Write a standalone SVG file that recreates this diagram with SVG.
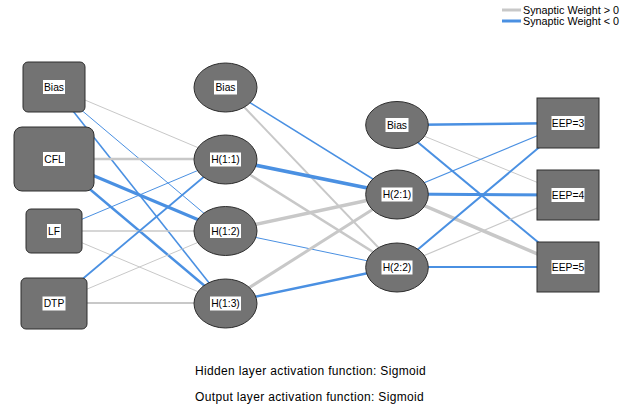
<svg xmlns="http://www.w3.org/2000/svg" width="627" height="407" viewBox="0 0 627 407">
<style>
.pos{stroke:#c8c8c8;fill:none;stroke-linecap:butt}
.neg{stroke:#4a90e2;fill:none;stroke-linecap:butt}
.node{fill:#737373;stroke:#2e2e2e;stroke-width:1}
.lb{fill:#ffffff;stroke:none}
.t{font-family:"Liberation Sans",Arial,sans-serif;font-size:10.3px;fill:#000;text-anchor:middle}
.leg{font-family:"Liberation Sans",Arial,sans-serif;font-size:10.8px;fill:#000}
.foot{font-family:"Liberation Sans",Arial,sans-serif;font-size:12px;fill:#000;letter-spacing:0.35px}
</style>
<rect width="627" height="407" fill="#ffffff"/>
<g id="legend">
<line x1="502" y1="10" x2="521" y2="10" class="pos" stroke-width="3"/>
<text x="523" y="14" class="leg">Synaptic Weight &gt; 0</text>
<line x1="502" y1="21" x2="521" y2="21" class="neg" stroke-width="3"/>
<text x="523" y="25" class="leg">Synaptic Weight &lt; 0</text>
</g>
<g id="connectors">
<!-- input to hidden 1 -->
<line x1="54" y1="87" x2="225" y2="159" class="pos" stroke-width="1"/>
<line x1="54" y1="87" x2="225" y2="231" class="neg" stroke-width="1"/>
<line x1="54" y1="87" x2="225" y2="303" class="neg" stroke-width="1.6"/>
<line x1="54" y1="159" x2="225" y2="159" class="pos" stroke-width="2.5"/>
<line x1="54" y1="159" x2="225" y2="231" class="neg" stroke-width="3"/>
<line x1="54" y1="159" x2="225" y2="303" class="neg" stroke-width="2.5"/>
<line x1="54" y1="231" x2="225" y2="159" class="neg" stroke-width="1"/>
<line x1="54" y1="231" x2="225" y2="231" class="pos" stroke-width="1.3"/>
<line x1="54" y1="231" x2="225" y2="303" class="pos" stroke-width="1"/>
<line x1="54" y1="303" x2="225" y2="159" class="neg" stroke-width="1.8"/>
<line x1="54" y1="303" x2="225" y2="231" class="pos" stroke-width="1"/>
<line x1="54" y1="303" x2="225" y2="303" class="pos" stroke-width="2"/>
<!-- hidden 1 to hidden 2 -->
<line x1="225" y1="87" x2="397" y2="194" class="neg" stroke-width="1.5"/>
<line x1="225" y1="87" x2="397" y2="267" class="pos" stroke-width="2"/>
<line x1="225" y1="159" x2="397" y2="194" class="neg" stroke-width="3.5"/>
<line x1="225" y1="159" x2="397" y2="267" class="pos" stroke-width="2.5"/>
<line x1="225" y1="231" x2="397" y2="194" class="pos" stroke-width="3.5"/>
<line x1="225" y1="231" x2="397" y2="267" class="neg" stroke-width="1"/>
<line x1="225" y1="303" x2="397" y2="194" class="pos" stroke-width="3"/>
<line x1="225" y1="303" x2="397" y2="267" class="neg" stroke-width="2.5"/>
<!-- hidden 2 to output -->
<line x1="397" y1="125" x2="568" y2="123" class="neg" stroke-width="2.5"/>
<line x1="397" y1="125" x2="568" y2="195" class="pos" stroke-width="1"/>
<line x1="397" y1="125" x2="568" y2="267" class="neg" stroke-width="2"/>
<line x1="397" y1="194" x2="568" y2="123" class="neg" stroke-width="1.2"/>
<line x1="397" y1="194" x2="568" y2="195" class="neg" stroke-width="3"/>
<line x1="397" y1="194" x2="568" y2="267" class="pos" stroke-width="3.5"/>
<line x1="397" y1="267" x2="568" y2="123" class="neg" stroke-width="2"/>
<line x1="397" y1="267" x2="568" y2="195" class="pos" stroke-width="1.2"/>
<line x1="397" y1="267" x2="568" y2="267" class="neg" stroke-width="2"/>
</g>
<!-- input layer -->
<g id="in-bias">
<rect x="23" y="62" width="62" height="50" rx="5" class="node"/>
<rect x="43" y="80" width="22" height="14" class="lb"/>
<text x="54" y="90.7" class="t">Bias</text>
</g>
<g id="in-cfl">
<rect x="14" y="127" width="80" height="64" rx="8" class="node"/>
<rect x="43" y="152" width="22" height="14" class="lb"/>
<text x="54" y="162.7" class="t">CFL</text>
</g>
<g id="in-lf">
<rect x="26" y="209" width="56" height="44" rx="5" class="node"/>
<rect x="47" y="224" width="14" height="14" class="lb"/>
<text x="54" y="234.7" class="t">LF</text>
</g>
<g id="in-dtp">
<rect x="21" y="278" width="66" height="51" rx="5" class="node"/>
<rect x="42.5" y="296.5" width="23" height="14" class="lb"/>
<text x="54" y="307.2" class="t">DTP</text>
</g>
<!-- hidden layer 1 -->
<g id="h1-bias">
<ellipse cx="225.5" cy="87.5" rx="31.5" ry="24.5" class="node"/>
<rect x="214" y="80.5" width="23" height="14" class="lb"/>
<text x="225.5" y="91.2" class="t">Bias</text>
</g>
<g id="h1-1">
<ellipse cx="225.5" cy="159.5" rx="31.5" ry="24.5" class="node"/>
<rect x="210" y="152.5" width="31" height="14" class="lb"/>
<text x="225.5" y="163.2" class="t">H(1:1)</text>
</g>
<g id="h1-2">
<ellipse cx="225.5" cy="231" rx="31.5" ry="24.5" class="node"/>
<rect x="210" y="224" width="31" height="14" class="lb"/>
<text x="225.5" y="234.7" class="t">H(1:2)</text>
</g>
<g id="h1-3">
<ellipse cx="225.5" cy="303.5" rx="31.5" ry="24.5" class="node"/>
<rect x="210" y="296.5" width="31" height="14" class="lb"/>
<text x="225.5" y="307.2" class="t">H(1:3)</text>
</g>
<!-- hidden layer 2 -->
<g id="h2-bias">
<ellipse cx="397" cy="125" rx="31.3" ry="23.5" class="node"/>
<rect x="385.5" y="118" width="23" height="14" class="lb"/>
<text x="397" y="128.7" class="t">Bias</text>
</g>
<g id="h2-1">
<ellipse cx="397" cy="194.5" rx="31.3" ry="24.5" class="node"/>
<rect x="381.5" y="187.5" width="31" height="14" class="lb"/>
<text x="397" y="198.2" class="t">H(2:1)</text>
</g>
<g id="h2-2">
<ellipse cx="397" cy="267.5" rx="31.3" ry="24.5" class="node"/>
<rect x="381.5" y="260.5" width="31" height="14" class="lb"/>
<text x="397" y="271.2" class="t">H(2:2)</text>
</g>
<!-- output layer -->
<g id="out-3">
<rect x="537" y="98" width="62" height="50" class="node"/>
<rect x="551.5" y="116" width="33" height="14" class="lb"/>
<text x="568" y="126.7" class="t">EEP=3</text>
</g>
<g id="out-4">
<rect x="537" y="170" width="62" height="50" class="node"/>
<rect x="551.5" y="188" width="33" height="14" class="lb"/>
<text x="568" y="198.7" class="t">EEP=4</text>
</g>
<g id="out-5">
<rect x="537" y="242" width="62" height="50" class="node"/>
<rect x="551.5" y="260" width="33" height="14" class="lb"/>
<text x="568" y="270.7" class="t">EEP=5</text>
</g>
<g id="footer">
<text x="195" y="375" class="foot">Hidden layer activation function: Sigmoid</text>
<text x="195" y="401" class="foot">Output layer activation function: Sigmoid</text>
</g>
</svg>
